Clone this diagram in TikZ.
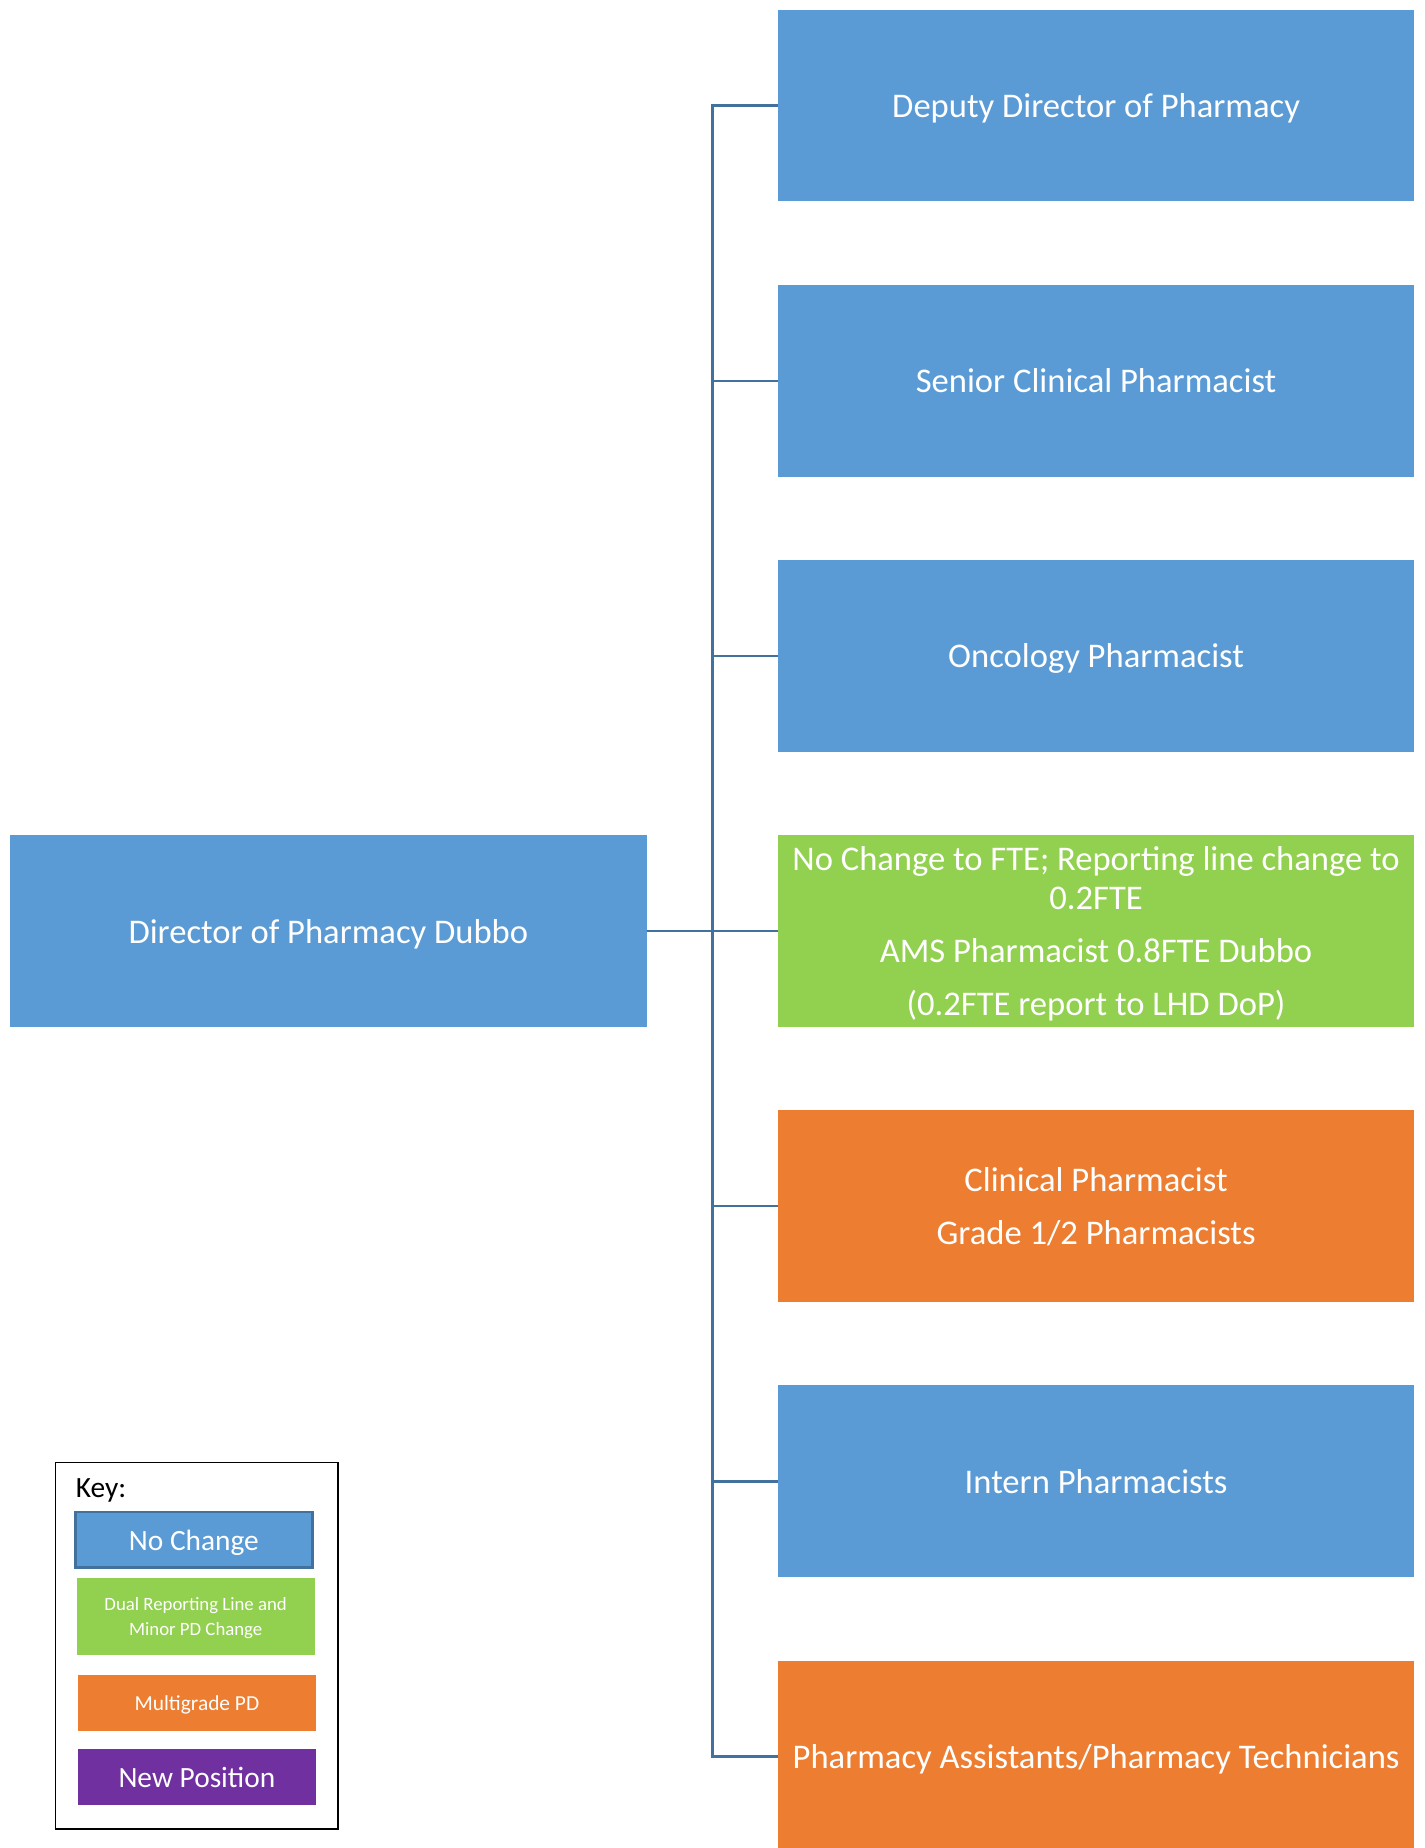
\documentclass[tikz,border=0pt]{standalone}
\usepackage{fontspec}
\setmainfont{Carlito}
\usetikzlibrary{positioning}

\definecolor{nochange}{HTML}{5B9BD5}
\definecolor{dualline}{HTML}{92D050}
\definecolor{multigrade}{HTML}{ED7D31}
\definecolor{newpos}{HTML}{7030A0}
\definecolor{linkblue}{HTML}{41719C}

\tikzset{
  role/.style={minimum width=318.5pt, minimum height=95.8pt, inner sep=0pt, outer sep=0pt,
    text depth=0pt, text=white, align=center, font=\fontsize{17.3}{19.2}\selectfont},
  keep/.style={role, fill=nochange},
  dual/.style={role, fill=dualline},
  multi/.style={role, fill=multigrade},
  keyitem/.style={minimum width=119pt, inner sep=0pt, outer sep=0pt, text depth=0pt,
    text=white, align=center},
  link/.style={draw=linkblue, line width=1.3pt},
}

\begin{document}
\begin{tikzpicture}[x=0.5895pt, y=-0.5895pt]
  \useasboundingbox (0,0) rectangle (1208.7,1568);
  \clip (0,0) rectangle (1208.7,1568);
  % Nodes
  \node[keep] (deputy) at (930,89.7) {Deputy Director of Pharmacy}; %
  \node[keep, below=41.8pt of deputy] (senior) {Senior Clinical Pharmacist}; %
  \node[keep, below=41.8pt of senior] (oncology) {Oncology Pharmacist}; %
  \node[dual, below=41.8pt of oncology] (ams) {No Change to FTE; Reporting line change to\\0.2FTE\\[7.4pt]AMS Pharmacist 0.8FTE Dubbo\\[7.4pt](0.2FTE report to LHD DoP)}; %
  \node[multi, below=41.8pt of ams] (clinical) {Clinical Pharmacist\\[7.4pt]Grade 1/2 Pharmacists}; %
  \node[keep, below=41.8pt of clinical] (intern) {Intern Pharmacists}; %
  \node[multi, below=41.8pt of intern] (assist) {Pharmacy Assistants/Pharmacy Technicians}; %
  \node[keep, left=65.5pt of ams] (director) {Director of Pharmacy Dubbo}; %
  % Reporting lines
  \foreach \n in {deputy,senior,oncology,ams,clinical,intern,assist}
    \draw[link] (director.east) -- ++(33pt,0) |- (\n.west); %
  % Key
  \node[draw=black, line width=0.8pt, minimum width=141.5pt, minimum height=183.3pt] (key) at (167,1396.5) {}; %
  \node[anchor=west, inner sep=0pt, font=\fontsize{14.7}{16}\selectfont] (keytitle) at (64,1265) {Key:}; %
  \node[keyitem, fill=nochange, draw=linkblue, line width=1.2pt, minimum width=118.5pt, minimum height=27.7pt,
    font=\fontsize{14.7}{16}\selectfont] (keynochange) at (164.5,1306.5) {No Change}; %
  \node[keyitem, fill=dualline, minimum height=38.3pt, font=\fontsize{9.4}{12.4}\selectfont,
    below=5.3pt of keynochange, xshift=0.9pt] (keydual) {Dual Reporting Line and\\Minor PD Change}; %
  \node[keyitem, fill=multigrade, minimum height=28.3pt, font=\fontsize{10.7}{12}\selectfont,
    below=10pt of keydual, xshift=0.6pt] (keymulti) {Multigrade PD}; %
  \node[keyitem, fill=newpos, minimum height=28.3pt, font=\fontsize{14.7}{16}\selectfont,
    below=8.8pt of keymulti] (keynew) {New Position}; %
\end{tikzpicture}
\end{document}
